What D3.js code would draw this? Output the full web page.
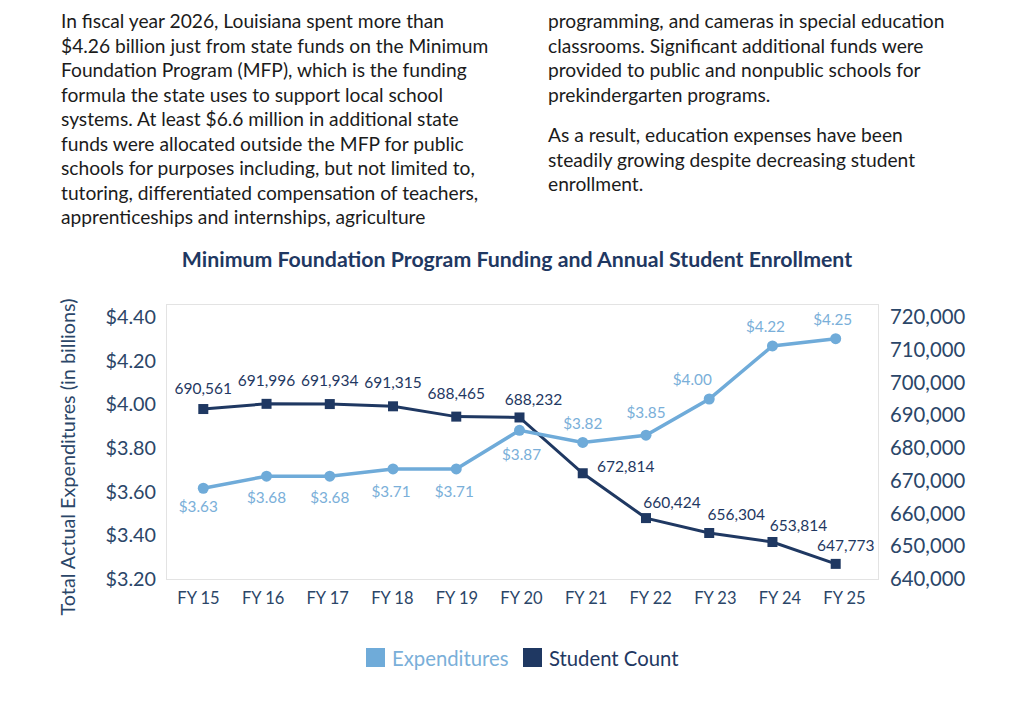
<!DOCTYPE html>
<html>
<head>
<meta charset="utf-8">
<script src="https://cdn.jsdelivr.net/npm/d3@7"></script>
<style>
  html, body { margin: 0; padding: 0; background: #fff; }
  svg { display: block; }
</style>
</head>
<body>
<svg id="chart" width="1018" height="721"></svg>
<script>
// chart data
let years = ["FY 15","FY 16","FY 17","FY 18","FY 19","FY 20","FY 21","FY 22","FY 23","FY 24","FY 25"];
let expenditures = [3.63, 3.68, 3.68, 3.71, 3.71, 3.87, 3.82, 3.85, 4.00, 4.22, 4.25];
let studentCount = [690561, 691996, 691934, 691315, 688465, 688232, 672814, 660424, 656304, 653814, 647773];
let leftTicks = [3.20, 3.40, 3.60, 3.80, 4.00, 4.20, 4.40];
let rightTicks = [640000, 650000, 660000, 670000, 680000, 690000, 700000, 710000, 720000];

let textLeft = [
  "In fiscal year 2026, Louisiana spent more than",
  "$4.26 billion just from state funds on the Minimum",
  "Foundation Program (MFP), which is the funding",
  "formula the state uses to support local school",
  "systems. At least $6.6 million in additional state",
  "funds were allocated outside the MFP for public",
  "schools for purposes including, but not limited to,",
  "tutoring, differentiated compensation of teachers,",
  "apprenticeships and internships, agriculture"
];
let textRight = [
  "programming, and cameras in special education",
  "classrooms. Significant additional funds were",
  "provided to public and nonpublic schools for",
  "prekindergarten programs."
];
let textRight2 = [
  "As a result, education expenses have been",
  "steadily growing despite decreasing student",
  "enrollment."
];

let kColors = {
  "light": "#6fabd9",
  "lightText": "#7aafd9",
  "dark": "#1f3862",
  "axisText": "#2b4668",
  "body": "#1b1b1b",
  "frame": "#e3e3e3"
};

let FONT = "Lato, 'Open Sans', sans-serif";

// label nudges (px) around each point, hand-placed like the original
let expLabelOffset = [[-5,18],[0,21],[0,21],[-2,22],[-2,22],[2,24],[0,-19],[0,-23],[-17,-20],[-7,-20],[-3,-20]];
let stuLabelOffset = [[0,-21],[0,-24],[0,-24],[0,-24],[0,-24],[14,-18],[43,-7],[26,-16],[27,-19],[26,-17],[10,-19]];

let svg = d3.select("#chart");

// paragraph text
function drawParagraph(lines, x, y0){
  svg.append("g").selectAll("text")
    .data(lines)
    .enter().append("text")
    .attr("x", x)
    .attr("y", (d, i) => y0 + i * 24.5)
    .attr("fill", kColors.body)
    .style("font-family", FONT)
    .style("font-size", "19.2px")
    .text(d => d);
}
drawParagraph(textLeft, 61, 28);
drawParagraph(textRight, 548, 28);
drawParagraph(textRight2, 548, 142);

// title
svg.append("text")
  .attr("x", 517)
  .attr("y", 267)
  .attr("text-anchor", "middle")
  .attr("fill", kColors.dark)
  .style("font-family", FONT)
  .style("font-weight", "bold")
  .style("font-size", "21.3px")
  .text("Minimum Foundation Program Funding and Annual Student Enrollment");

// plot frame
svg.append("rect")
  .attr("x", 166.5).attr("y", 304.5)
  .attr("width", 712).attr("height", 275)
  .attr("fill", "none")
  .attr("stroke", kColors.frame)
  .attr("stroke-width", 1);

// scales: marks sit on a slightly taller span than the printed tick labels
let xScale = d3.scalePoint().domain(years).range([203.3, 835.7]);
let xAxisScale = d3.scalePoint().domain(years).range([198, 844]);

let yLeft = d3.scaleLinear().domain([3.20, 4.40]).range([592, 302.5]);
let yRight = d3.scaleLinear().domain([640000, 720000]).range([592, 302.5]);
let yLeftAxis = d3.scaleLinear().domain([3.20, 4.40]).range([579, 317]);
let yRightAxis = d3.scaleLinear().domain([640000, 720000]).range([579, 317]);

function styleAxis(g, size){
  g.select(".domain").remove();
  g.selectAll(".tick line").remove();
  g.selectAll("text")
    .attr("fill", kColors.axisText)
    .style("font-family", FONT)
    .style("font-size", size);
}

svg.append("g")
  .attr("transform", "translate(156,0)")
  .call(d3.axisLeft(yLeftAxis).tickValues(leftTicks).tickSize(0).tickPadding(0)
    .tickFormat(d => "$" + d3.format(".2f")(d)))
  .call(g => styleAxis(g, "19.8px"));

svg.append("g")
  .attr("transform", "translate(890,0)")
  .call(d3.axisRight(yRightAxis).tickValues(rightTicks).tickSize(0).tickPadding(0)
    .tickFormat(d3.format(",")))
  .call(g => styleAxis(g, "20.3px"));

svg.append("g")
  .attr("transform", "translate(0,592)")
  .call(d3.axisBottom(xAxisScale).tickSize(0).tickPadding(0))
  .call(g => styleAxis(g, "16.5px"));

// y axis title
svg.append("text")
  .attr("transform", "translate(75,457) rotate(-90)")
  .attr("text-anchor", "middle")
  .attr("fill", kColors.axisText)
  .style("font-family", FONT)
  .style("font-size", "19.8px")
  .text("Total Actual Expenditures (in billions)");

// lines
let lineStu = d3.line().x((d, i) => xScale(years[i])).y(d => yRight(d));
let lineExp = d3.line().x((d, i) => xScale(years[i])).y(d => yLeft(d));

svg.append("path")
  .datum(studentCount)
  .attr("d", lineStu)
  .attr("fill", "none")
  .attr("stroke", kColors.dark)
  .attr("stroke-width", 3);

svg.append("g").selectAll("rect")
  .data(studentCount)
  .enter().append("rect")
  .attr("x", (d, i) => xScale(years[i]) - 5)
  .attr("y", d => yRight(d) - 5)
  .attr("width", 10).attr("height", 10)
  .attr("fill", kColors.dark);

svg.append("path")
  .datum(expenditures)
  .attr("d", lineExp)
  .attr("fill", "none")
  .attr("stroke", kColors.light)
  .attr("stroke-width", 3.5);

svg.append("g").selectAll("circle")
  .data(expenditures)
  .enter().append("circle")
  .attr("cx", (d, i) => xScale(years[i]))
  .attr("cy", d => yLeft(d))
  .attr("r", 5.5)
  .attr("fill", kColors.light);

// data labels
svg.append("g").selectAll("text")
  .data(studentCount)
  .enter().append("text")
  .attr("x", (d, i) => xScale(years[i]) + stuLabelOffset[i][0])
  .attr("y", (d, i) => yRight(d) + stuLabelOffset[i][1])
  .attr("text-anchor", "middle")
  .attr("dominant-baseline", "central")
  .attr("fill", kColors.dark)
  .style("font-family", FONT)
  .style("font-size", "15.5px")
  .text(d => d3.format(",")(d));

svg.append("g").selectAll("text")
  .data(expenditures)
  .enter().append("text")
  .attr("x", (d, i) => xScale(years[i]) + expLabelOffset[i][0])
  .attr("y", (d, i) => yLeft(d) + expLabelOffset[i][1])
  .attr("text-anchor", "middle")
  .attr("dominant-baseline", "central")
  .attr("fill", kColors.lightText)
  .style("font-family", FONT)
  .style("font-size", "15.3px")
  .text(d => "$" + d3.format(".2f")(d));

// legend
let legendItems = [
  {"label": "Expenditures", "color": kColors.light, "text": kColors.lightText, "x": 366},
  {"label": "Student Count", "color": kColors.dark, "text": kColors.dark, "x": 523}
];
let legend = svg.append("g").selectAll("g")
  .data(legendItems)
  .enter().append("g")
  .attr("transform", d => "translate(" + d.x + ",648)");
legend.append("rect")
  .attr("width", 19).attr("height", 19)
  .attr("fill", d => d.color);
legend.append("text")
  .attr("x", 26).attr("y", 10)
  .attr("dominant-baseline", "central")
  .attr("fill", d => d.text)
  .style("font-family", FONT)
  .style("font-size", "20.3px")
  .text(d => d.label);
</script>
</body>
</html>
